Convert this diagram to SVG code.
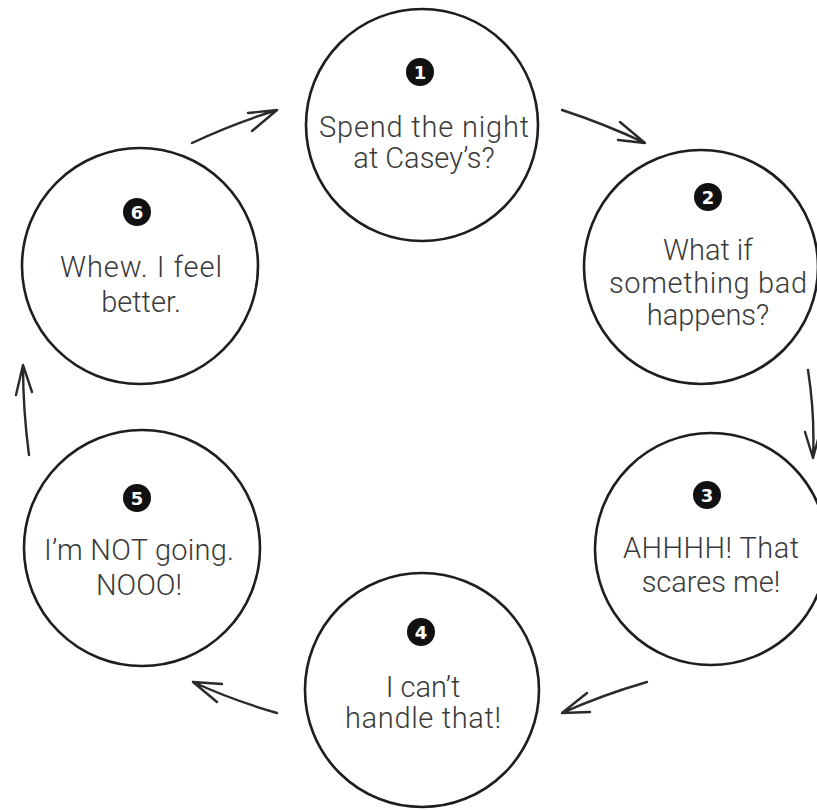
<svg xmlns="http://www.w3.org/2000/svg" width="817" height="810" viewBox="0 0 817 810">
<style>
.ring{fill:#fff;stroke:#1e1e1e;stroke-width:2.6}
.badge{fill:#111}
.num{font-family:"DejaVu Sans","Liberation Sans",sans-serif;font-weight:bold;font-size:18px;fill:#fff;text-anchor:middle}
.lbl{font-family:Roboto,"Liberation Sans",sans-serif;font-weight:300;font-size:29px;fill:#3a3a3a;text-anchor:middle}
.arr{fill:none;stroke:#2a2a2a;stroke-width:2.4;stroke-linecap:round;stroke-linejoin:round}
</style>
<rect width="817" height="810" fill="#fff"/>
<g id="connectors">
<path class="arr" d="M192 143 Q232 124 277 110 M248 113 L277 110 L252 131"/>
<path class="arr" d="M562 110 Q605 124 645 143 M620 122 L645 143 L618 140"/>
<path class="arr" d="M808 370 Q815 415 813 458 M805 432 L813 458 L820 432"/>
<path class="arr" d="M647 682 Q602 695 562 713 M587 693 L562 713 L590 712"/>
<path class="arr" d="M277 713 Q232 700 193 682 M222 684 L193 682 L217 702"/>
<path class="arr" d="M29 455 Q23 410 23 365 M16 395 L23 365 L32 392"/>
</g>
<g id="node1">
<circle class="ring" cx="422" cy="125" r="116"/>
<circle class="badge" cx="420" cy="72" r="14"/>
<text class="num" x="420" y="78.5">1</text>
<text class="lbl" x="424" y="137" textLength="210">Spend the night</text>
<text class="lbl" x="424" y="168">at Casey’s?</text>
</g>
<g id="node2">
<circle class="ring" cx="701" cy="267" r="117"/>
<circle class="badge" cx="708" cy="197" r="14"/>
<text class="num" x="708" y="203.5">2</text>
<text class="lbl" x="708" y="260">What if</text>
<text class="lbl" x="708" y="293" textLength="198">something bad</text>
<text class="lbl" x="708" y="325">happens?</text>
</g>
<g id="node3">
<circle class="ring" cx="711" cy="549" r="116"/>
<circle class="badge" cx="707" cy="495" r="14"/>
<text class="num" x="707" y="501.5">3</text>
<text class="lbl" x="711" y="558" textLength="176">AHHHH! That</text>
<text class="lbl" x="711" y="592">scares me!</text>
</g>
<g id="node4">
<circle class="ring" cx="422" cy="690" r="117"/>
<circle class="badge" cx="421" cy="632" r="14"/>
<text class="num" x="421" y="638.5">4</text>
<text class="lbl" x="423" y="697">I can’t</text>
<text class="lbl" x="423" y="728" textLength="156">handle that!</text>
</g>
<g id="node5">
<circle class="ring" cx="142" cy="548" r="118"/>
<circle class="badge" cx="137" cy="498" r="14"/>
<text class="num" x="137" y="504.5">5</text>
<text class="lbl" x="139" y="560" textLength="190">I’m NOT going.</text>
<text class="lbl" x="139" y="595">NOOO!</text>
</g>
<g id="node6">
<circle class="ring" cx="140" cy="266" r="118"/>
<circle class="badge" cx="137" cy="212" r="14"/>
<text class="num" x="137" y="218.5">6</text>
<text class="lbl" x="141" y="277" textLength="162">Whew. I feel</text>
<text class="lbl" x="141" y="312">better.</text>
</g>
</svg>
